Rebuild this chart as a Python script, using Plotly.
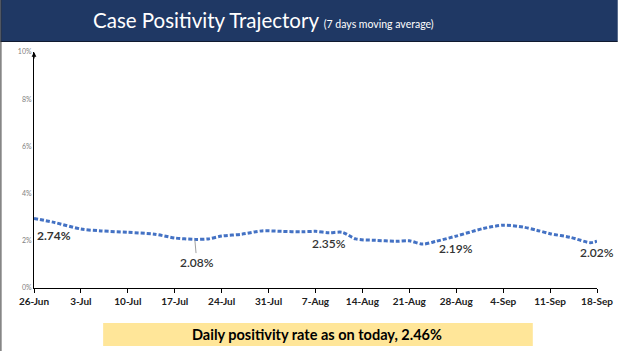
import plotly.graph_objects as go
import pandas as pd

# ---- data ----
dates = ["2020-06-26", "2020-06-29", "2020-07-03", "2020-07-06", "2020-07-10", "2020-07-14",
         "2020-07-17", "2020-07-20", "2020-07-22", "2020-07-24", "2020-07-27", "2020-07-30",
         "2020-08-02", "2020-08-05", "2020-08-07", "2020-08-09", "2020-08-11", "2020-08-13",
         "2020-08-16", "2020-08-19", "2020-08-21", "2020-08-23", "2020-08-25", "2020-08-28",
         "2020-09-01", "2020-09-04", "2020-09-07", "2020-09-09", "2020-09-11", "2020-09-14",
         "2020-09-17", "2020-09-18"]
positivity = [2.95, 2.78, 2.50, 2.42, 2.36, 2.28,
              2.12, 2.06, 2.08, 2.20, 2.28, 2.42,
              2.40, 2.38, 2.40, 2.34, 2.36, 2.08,
              2.02, 1.98, 2.00, 1.86, 1.98, 2.20,
              2.52, 2.66, 2.58, 2.45, 2.30, 2.15,
              1.92, 1.98]

tick_dates = ["2020-06-26", "2020-07-03", "2020-07-10", "2020-07-17", "2020-07-24", "2020-07-31",
              "2020-08-07", "2020-08-14", "2020-08-21", "2020-08-28", "2020-09-04", "2020-09-11",
              "2020-09-18"]
tick_labels = ["26-Jun", "3-Jul", "10-Jul", "17-Jul", "24-Jul", "31-Jul", "7-Aug", "14-Aug",
               "21-Aug", "28-Aug", "4-Sep", "11-Sep", "18-Sep"]

y_ticks = [0, 2, 4, 6, 8, 10]
y_tick_labels = ["0%", "2%", "4%", "6%", "8%", "10%"]

# labelled values: (text, date, y-position of label, bold)
callouts = [("2.74%", "2020-06-29", 2.21, True),
            ("2.35%", "2020-08-09", 1.87, False),
            ("2.19%", "2020-08-28", 1.66, False),
            ("2.02%", "2020-09-18", 1.49, False)]

title_main = "Case Positivity Trajectory"
title_sub = "(7 days moving average)"
footer = "Daily positivity rate as on today, 2.46%"

fig = go.Figure()
fig.add_trace(go.Scatter(
    x=pd.to_datetime(dates), y=positivity, mode="lines",
    line=dict(color="#4472c4", width=3, dash="4px,2px", shape="spline", smoothing=0.8),
    hoverinfo="skip", showlegend=False))

for txt, d, yv, bold in callouts:
    fig.add_annotation(x=d, y=yv, text=f"<b>{txt}</b>" if bold else txt, showarrow=False,
                       font=dict(family="Lato", size=12, color="#333333",
                                 weight="bold" if bold else 600),
                       xanchor="center", yanchor="middle")

# 2.08% with leader line
fig.add_annotation(x="2020-07-20", y=2.03, text="2.08%", showarrow=True, arrowhead=0,
                   arrowwidth=1, arrowcolor="#a0a0a0", ax=2, ay=22,
                   font=dict(family="Lato", size=12, color="#333333", weight=600))

# arrowhead at top of y axis
fig.add_annotation(x="2020-06-26", y=10, xref="x", yref="y", ax=0, ay=8, showarrow=True,
                   arrowhead=2, arrowsize=0.8, arrowwidth=1.2, arrowcolor="#000000", text="")

fig.update_layout(
    width=625, height=351,
    margin=dict(l=34, r=21, t=52, b=63),
    paper_bgcolor="white", plot_bgcolor="white",
    xaxis=dict(range=["2020-06-26", "2020-09-18"], tickvals=tick_dates, ticktext=tick_labels,
               showgrid=False, zeroline=False, showline=True, linecolor="#000000", linewidth=1,
               ticks="outside", ticklen=4, tickcolor="#000000",
               tickfont=dict(family="Lato", size=10, color="#202020", weight="bold")),
    yaxis=dict(range=[0, 10], tickvals=y_ticks, ticktext=y_tick_labels, showgrid=False,
               zeroline=False, showline=True, linecolor="#000000", linewidth=1, ticks="",
               tickfont=dict(family="Lato", size=7, color="#808080")),
)

# helpers converting pixel positions to paper coordinates
H = 351.0
W = 625.0
plot_h = H - 52 - 63
plot_w = W - 34 - 21


def py(pix_y):
    return (H - 63 - pix_y) / plot_h


def px(pix_x):
    return (pix_x - 34) / plot_w


# header bar
fig.add_shape(type="rect", xref="paper", yref="paper", x0=px(0), x1=px(625), y0=py(41), y1=py(0),
              fillcolor="#1f3864", line_width=0, layer="above")
fig.add_shape(type="line", xref="paper", yref="paper", x0=px(0), x1=px(625), y0=py(41.5), y1=py(41.5),
              line=dict(color="#101a30", width=1), layer="above")
fig.add_annotation(xref="paper", yref="paper", x=px(92), y=py(20), xanchor="left", yanchor="middle",
                   showarrow=False,
                   text=f"{title_main} <span style='font-size:10.5px'>{title_sub}</span>",
                   font=dict(family="Lato", size=20.5, color="white"))

# slide left border
fig.add_shape(type="line", xref="paper", yref="paper", x0=px(0.5), x1=px(0.5), y0=py(351), y1=py(0),
              line=dict(color="#333333", width=1), layer="above")

# footer box
fig.add_shape(type="rect", xref="paper", yref="paper", x0=px(104), x1=px(539), y0=py(346), y1=py(323),
              fillcolor="#ffe699", line_width=0, layer="above")
fig.add_annotation(xref="paper", yref="paper", x=px(321), y=py(334.5), xanchor="center", yanchor="middle",
                   showarrow=False, text=f"<b>{footer}</b>",
                   font=dict(family="Lato", size=14.5, color="#000000"))

fig.write_html("out.html")
